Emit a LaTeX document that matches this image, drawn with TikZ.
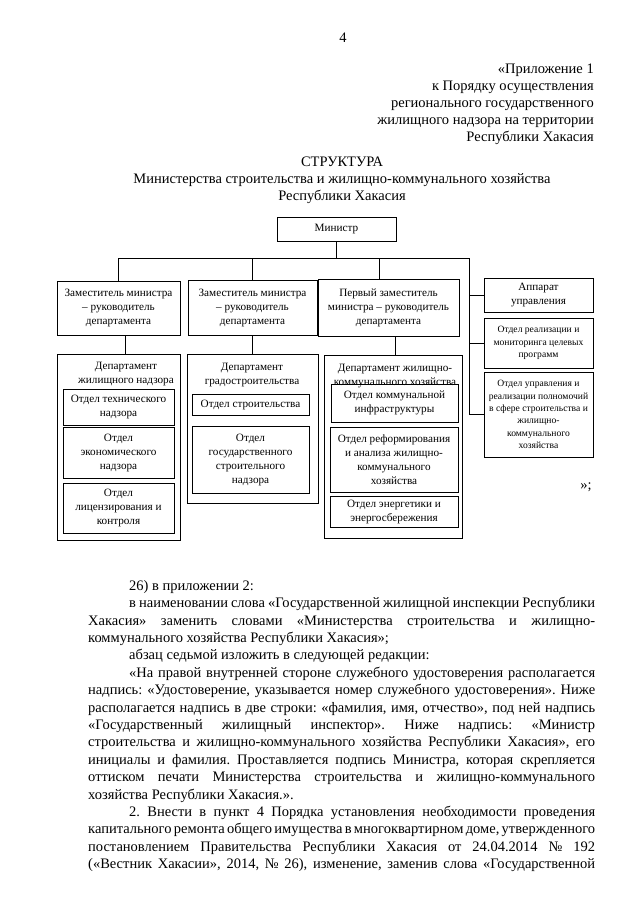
\documentclass[tikz,border=0pt]{standalone}
\usepackage{fontspec}
\setmainfont{Liberation Serif}
\usetikzlibrary{positioning}

\newcommand\bodyfont{\fontsize{14.5}{17.4}\selectfont}
\newcommand\boxfont{\fontsize{11.2}{14}\selectfont}
\newcommand\unitfont{\fontsize{9.6}{12.3}\selectfont}
\newcommand\indentpar{\hspace*{41pt}}

\begin{document}
\begin{tikzpicture}[x=1pt, y=-1pt,
  box/.style={draw, line width=0.8pt, align=center, inner sep=1pt, font=\boxfont},
  unit/.style={box, font=\unitfont},
  dept/.style={draw, line width=0.8pt},
  link/.style={line width=0.8pt}]
  \useasboundingbox[fill=white] (0,0) rectangle (640,905);

  % page head
  \node[font=\bodyfont] (pagenum) at (343,38) {4};
  \node[anchor=north east, align=right, inner sep=0pt, font=\fontsize{14.5}{17}\selectfont] (annex) at (594,64)
    {«Приложение 1\\к Порядку осуществления\\регионального государственного\\жилищного надзора на территории\\Республики Хакасия};
  \node[font=\bodyfont] (title) at (342,162) {СТРУКТУРА};
  \node[below=1.5pt of title, inner sep=1pt, align=center, font=\fontsize{14.5}{17.4}\selectfont] (title2)
    {Министерства строительства и жилищно-коммунального хозяйства\\Республики Хакасия};

  % top level
  \node[box, minimum width=119pt, minimum height=24pt] (minister) at (336.5,229) {Министр};
  \node[box, minimum width=123pt, minimum height=54pt] (dep1) at (118.5,308) {Заместитель министра\\– руководитель\\департамента};
  \node[box, minimum width=129pt, minimum height=55pt] (dep2) at (252.5,307.5) {Заместитель министра\\– руководитель\\департамента};
  \node[box, minimum width=141pt, minimum height=57pt] (first) at (388.5,307.5) {Первый заместитель\\министра – руководитель\\департамента};
  \node[box, minimum width=109pt, minimum height=34pt] (apparat) at (538.5,295) {Аппарат\\управления};
  \node[unit, minimum width=109pt, minimum height=50pt] (realiz) at (538.5,343) {Отдел реализации и\\мониторинга целевых\\программ};
  \node[unit, minimum width=109pt, minimum height=85pt] (upravl) at (538.5,414.5)
    {Отдел управления и\\реализации полномочий\\в сфере строительства и\\жилищно-\\коммунального\\хозяйства};

  % departments
  \node[dept, minimum width=123pt, minimum height=186pt] (dept1) at (118.5,447) {};
  \node[dept, minimum width=131pt, minimum height=149pt] (dept2) at (252.5,428.5) {};
  \node[dept, minimum width=138pt, minimum height=183pt] (dept3) at (393,447.3) {};
  \node[font=\boxfont, align=center, inner sep=0pt] (dept1t) at (126,373.7) {Департамент\\жилищного надзора};
  \node[font=\boxfont, align=center, inner sep=0pt] (dept2t) at (252,375.5) {Департамент\\градостроительства};
  \node[font=\boxfont, align=center, inner sep=0pt] (dept3t) at (395,375.7) {Департамент жилищно-\\коммунального хозяйства};

  % units
  \node[box, minimum width=111pt, minimum height=36pt] (tech) at (118.5,407) {Отдел технического\\надзора};
  \node[box, minimum width=111pt, minimum height=51pt] (econ) at (118.5,452.5) {Отдел\\экономического\\надзора};
  \node[box, minimum width=111pt, minimum height=50pt] (licen) at (118.5,508) {Отдел\\лицензирования и\\контроля};
  \node[box, minimum width=117pt, minimum height=21pt] (build) at (250.5,404.5) {Отдел строительства};
  \node[box, minimum width=117pt, minimum height=67pt] (gsn) at (250.5,459.5) {Отдел\\государственного\\строительного\\надзора};
  \node[box, minimum width=127pt, minimum height=38pt] (infra) at (394.5,403) {Отдел коммунальной\\инфраструктуры};
  \node[box, minimum width=128pt, minimum height=65pt] (reform) at (394,459.5) {Отдел реформирования\\и анализа жилищно-\\коммунального\\хозяйства};
  \node[box, minimum width=128pt, minimum height=31pt] (energy) at (394,511.5) {Отдел энергетики и\\энергосбережения};
  \node[font=\bodyfont] (quote) at (586,487) {»;};

  % links
  \coordinate (busL) at (119,258);
  \coordinate (busR) at (469,258);
  \draw[link] (minister) -- (minister |- busL);
  \draw[link] (busL) -- (busR);
  \draw[link] (dep1) -- (dep1 |- busL);
  \draw[link] (dep2) -- (dep2 |- busL);
  \draw[link] ([xshift=-9.5pt]first.north) -- ([xshift=-9.5pt]first.north |- busL);
  \draw[link] (busR) |- (upravl);
  \draw[link] (busR |- apparat) -- (apparat);
  \draw[link] (busR |- realiz) -- (realiz);
  \draw[link] ([xshift=6.5pt]dep1.south) -- ([xshift=6.5pt]dep1.south |- dept1.north);
  \draw[link] (dep2) -- (dept2);
  \draw[link] ([xshift=7pt]first.south) -- ([xshift=7pt]first.south |- dept3.north);

  % text below
  \node[anchor=north west, inner sep=0pt, text width=507pt, align=justify, font=\bodyfont] (body) at (88,580)
    {\hyphenpenalty=10000 \exhyphenpenalty=10000 \tolerance=9999 \frenchspacing
     \spaceskip=0.25em plus 0.6em minus 0.13em
     \indentpar 26) в приложении 2:\par
     \indentpar в наименовании слова «Государственной жилищной инспекции Республики\linebreak
     Хакасия» заменить словами «Министерства строительства и жилищно-\linebreak
     коммунального хозяйства Республики Хакасия»;\par
     \indentpar абзац седьмой изложить в следующей редакции:\par
     \indentpar «На правой внутренней стороне служебного удостоверения располагается\linebreak
     надпись: «Удостоверение, указывается номер служебного удостоверения». Ниже\linebreak
     располагается надпись в две строки: «фамилия, имя, отчество», под ней надпись\linebreak
     «Государственный жилищный инспектор». Ниже надпись: «Министр\linebreak
     строительства и жилищно-коммунального хозяйства Республики Хакасия», его\linebreak
     инициалы и фамилия. Проставляется подпись Министра, которая скрепляется\linebreak
     оттиском печати Министерства строительства и жилищно-коммунального\linebreak
     хозяйства Республики Хакасия.».\par
     \indentpar 2. Внести в пункт 4 Порядка установления необходимости проведения\linebreak
     капитального ремонта общего имущества в многоквартирном доме, утвержденного\linebreak
     постановлением Правительства Республики Хакасия от 24.04.2014 № 192\linebreak
     («Вестник Хакасии», 2014, № 26), изменение, заменив слова «Государственной\parfillskip=0pt\par};
\end{tikzpicture}
\end{document}
